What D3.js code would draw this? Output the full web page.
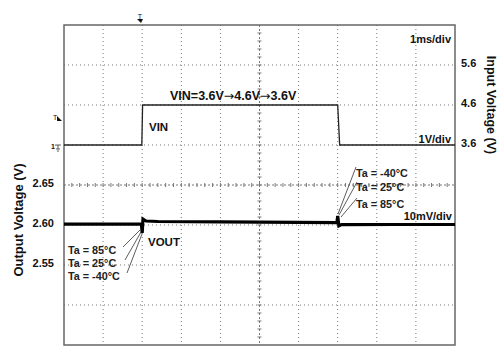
<!DOCTYPE html>
<html>
<head>
<meta charset="utf-8">
<script src="https://cdn.jsdelivr.net/npm/d3@7"></script>
<style>
  body { margin: 0; background: #fff; }
  svg text { font-family: "Liberation Sans", Arial, sans-serif; }
</style>
</head>
<body>
<div id="chart"></div>
<script>
// scope shot: line transient, VIN step 3.6V -> 4.6V -> 3.6V

var w = 500, h = 347;

// time axis, ms (1ms/div)
var vinTime = [0, 1.99, 2.01, 7.0, 7.05, 10];
var vinVolt = [3.6, 3.6, 4.6, 4.6, 3.6, 3.6];

var voutTime = [0, 1.0, 1.98, 2.0, 2.02, 2.1, 2.4, 4.0, 6.98, 7.0, 7.03, 7.1, 8.5, 10];
var voutVolt = [2.6012, 2.6012, 2.6010, 2.5900, 2.6075, 2.6050, 2.6044, 2.6040, 2.6031, 2.6113, 2.5990, 2.6005, 2.6006, 2.6006];

var inTicks = [3.6, 4.6, 5.6];
var outTicks = [2.55, 2.60, 2.65];

var leftLabels = ["Ta = 85°C", "Ta = 25°C", "Ta = -40°C"];
var rightLabels = ["Ta = -40°C", "Ta = 25°C", "Ta = 85°C"];

var box = {left: 64, top: 25, right: 455, bottom: 345};

var x = d3.scaleLinear().domain([0, 10]).range([box.left, box.right]);
var yIn = d3.scaleLinear().domain([-1.4, 6.6]).range([box.bottom, box.top]);
var yOut = d3.scaleLinear().domain([2.45, 2.85]).range([box.bottom, box.top]);

var svg = d3.select("#chart").append("svg")
  .attr("width", w)
  .attr("height", h);

var gridColor = "#777";

// dotted grid
var xDiv = d3.range(1, 10), yDiv = d3.range(1, 8);
var divH = (box.bottom - box.top) / 8;
var divW = (box.right - box.left) / 10;

svg.append("g").selectAll("line")
  .data(xDiv.filter(function (d) { return d != 5; }))
  .enter().append("line")
  .attr("x1", function (d) { return x(d); })
  .attr("x2", function (d) { return x(d); })
  .attr("y1", box.top).attr("y2", box.bottom)
  .attr("stroke", gridColor).attr("stroke-width", 1)
  .attr("stroke-dasharray", "1,3");

svg.append("g").selectAll("line")
  .data(yDiv.filter(function (d) { return d != 4; }))
  .enter().append("line")
  .attr("y1", function (d) { return box.top + d * divH; })
  .attr("y2", function (d) { return box.top + d * divH; })
  .attr("x1", box.left).attr("x2", box.right)
  .attr("stroke", gridColor).attr("stroke-width", 1)
  .attr("stroke-dasharray", "1,3");

// center cross with minor ticks
var cx = x(5), cy = box.top + 4 * divH;
svg.append("line")
  .attr("x1", box.left).attr("x2", box.right).attr("y1", cy).attr("y2", cy)
  .attr("stroke", gridColor).attr("stroke-dasharray", "2,2");
svg.append("line")
  .attr("x1", cx).attr("x2", cx).attr("y1", box.top).attr("y2", box.bottom)
  .attr("stroke", gridColor).attr("stroke-dasharray", "2,2");

svg.append("g").selectAll("line")
  .data(d3.range(1, 50))
  .enter().append("line")
  .attr("x1", function (d) { return box.left + d * divW / 5; })
  .attr("x2", function (d) { return box.left + d * divW / 5; })
  .attr("y1", cy - 2).attr("y2", cy + 2)
  .attr("stroke", gridColor);

svg.append("g").selectAll("line")
  .data(d3.range(1, 40))
  .enter().append("line")
  .attr("y1", function (d) { return box.top + d * divH / 5; })
  .attr("y2", function (d) { return box.top + d * divH / 5; })
  .attr("x1", cx - 2).attr("x2", cx + 2)
  .attr("stroke", gridColor);

// frame
svg.append("rect")
  .attr("x", box.left).attr("y", box.top)
  .attr("width", box.right - box.left).attr("height", box.bottom - box.top)
  .attr("fill", "none").attr("stroke", "#666").attr("stroke-width", 1.5);

// traces
var vinLine = d3.line()
  .x(function (d, i) { return x(vinTime[i]); })
  .y(function (d) { return yIn(d); });

svg.append("path")
  .attr("d", vinLine(vinVolt))
  .attr("fill", "none").attr("stroke", "#222").attr("stroke-width", 1.3);

var voutLine = d3.line()
  .x(function (d, i) { return x(voutTime[i]); })
  .y(function (d) { return yOut(d); });

svg.append("path")
  .attr("d", voutLine(voutVolt))
  .attr("fill", "none").attr("stroke", "#000").attr("stroke-width", 3.2)
  .attr("stroke-linejoin", "miter");

// axes
var leftAxis = d3.axisLeft(yOut).tickValues(outTicks).tickFormat(d3.format(".2f"))
  .tickSize(0).tickPadding(10);
var gl = svg.append("g").attr("transform", "translate(" + box.left + ",0)").call(leftAxis);
gl.select(".domain").remove();
gl.selectAll("text").attr("font-size", 11).attr("font-weight", "bold")
  .attr("font-family", "Liberation Sans, Arial, sans-serif").attr("fill", "#111").attr("dy", "0.1em");

var rightAxis = d3.axisRight(yIn).tickValues(inTicks).tickFormat(d3.format(".1f"))
  .tickSize(0).tickPadding(6);
var gr = svg.append("g").attr("transform", "translate(" + box.right + ",0)").call(rightAxis);
gr.select(".domain").remove();
gr.selectAll("text").attr("font-size", 11).attr("font-weight", "bold")
  .attr("font-family", "Liberation Sans, Arial, sans-serif").attr("fill", "#111").attr("dy", "0.1em");

// axis titles
svg.append("text")
  .attr("transform", "translate(23,220) rotate(-90)")
  .attr("text-anchor", "middle")
  .attr("font-size", 13).attr("font-weight", "bold").attr("fill", "#111")
  .text("Output Voltage (V)");

svg.append("text")
  .attr("transform", "translate(487,105) rotate(90)")
  .attr("text-anchor", "middle")
  .attr("font-size", 12.5).attr("font-weight", "bold").attr("fill", "#111")
  .text("Input Voltage (V)");

// annotations
function label(tx, ty, txt, size, weight, anchor) {
  return svg.append("text")
    .attr("x", tx).attr("y", ty)
    .attr("font-size", size).attr("font-weight", weight || "bold")
    .attr("text-anchor", anchor || "start")
    .attr("fill", "#111")
    .text(txt);
}

// title with wide arrows (Liberation's arrow glyph is tiny)
var vt = svg.append("text").attr("x", 170).attr("y", 100)
  .attr("font-size", 12.5).attr("font-weight", "bold").attr("fill", "#111");
["VIN=3.6V", "\u2192", "4.6V", "\u2192", "3.6V"].forEach(function (s) {
  var ts = vt.append("tspan").text(s);
  if (s == "\u2192") ts.attr("font-family", "DejaVu Sans").attr("font-weight", "normal");
});

label(149, 131, "VIN", 11.5, "bold");
label(148, 246, "VOUT", 11.5, "bold");
label(451, 43, "1ms/div", 11, "bold", "end");
label(451, 143, "1V/div", 11, "bold", "end");
label(452, 220, "10mV/div", 11, "bold", "end");

var leftY = [254, 267, 280];
leftLabels.forEach(function (t, i) { label(68, leftY[i], t, 10.8, "bold").attr("fill", "#222"); });
var rightY = [177, 191, 208];
rightLabels.forEach(function (t, i) { label(356, rightY[i], t, 10.8, "bold").attr("fill", "#222"); });

// leader lines
var leftLeads = [[123, 247, 140, 230], [125, 260, 141, 232], [127, 273, 142, 234]];
var rightLeads = [[356, 167, 338, 214], [357, 182, 339, 215], [357, 198, 341, 217]];
svg.append("g").selectAll("line")
  .data(leftLeads.concat(rightLeads))
  .enter().append("line")
  .attr("x1", function (d) { return d[0]; })
  .attr("y1", function (d) { return d[1]; })
  .attr("x2", function (d) { return d[2]; })
  .attr("y2", function (d) { return d[3]; })
  .attr("stroke", "#333").attr("stroke-width", 0.8);

// scope markers: trigger position, trigger level, ch1 ground
var mk = svg.append("g").attr("fill", "#111");
mk.append("text").attr("x", 140).attr("y", 19).attr("font-size", 7).attr("text-anchor", "middle").text("T");
mk.append("path").attr("d", "M137,19 L143,19 L141,23 Z");
mk.append("text").attr("x", 53).attr("y", 120).attr("font-size", 7).text("T");
mk.append("path").attr("d", "M57,116 L62,121 L57,121 Z");
mk.append("text").attr("x", 51).attr("y", 149).attr("font-size", 7).attr("font-weight", "bold").text("1");
mk.append("path").attr("d", "M55,145 L61,145 M58,145 L58,149 M56,149 L60,149 M57,151 L59,151")
  .attr("stroke", "#333").attr("fill", "none").attr("stroke-width", 0.8);
</script>
</body>
</html>
